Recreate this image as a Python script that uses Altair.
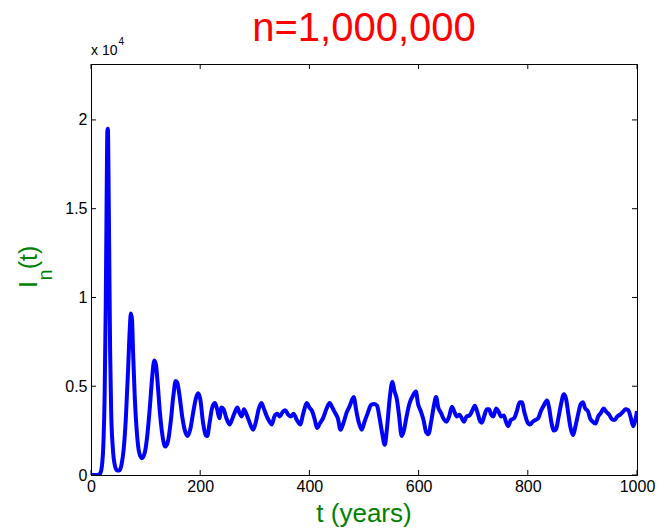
import altair as alt
import pandas as pd

# ---- data ----
t_years = [0, 8, 14, 17, 20, 23, 25, 27, 28.5, 30, 31, 32, 33.5, 35, 37, 40, 44, 48, 52, 56,
           60, 64, 68, 71, 73, 75, 77, 80, 84, 88, 93, 98, 103, 108, 112, 116, 119, 122, 126, 131,
           136, 141, 146, 151, 155, 158, 162, 167, 172, 177, 182, 187, 192, 196, 200, 205, 210, 213, 217, 222,
           227, 231, 235, 239, 243, 248, 254, 258, 263, 268, 272, 276, 280, 285, 290, 297, 302, 307, 312, 317,
           322, 327, 331, 336, 341, 346, 351, 356, 361, 366, 371, 377, 383, 389, 395, 400, 405, 410, 414, 419,
           425, 431, 437, 442, 447, 452, 457, 462, 468, 474, 481, 486, 491, 496, 501, 507, 513, 519, 524, 528,
           533, 538, 542, 547, 552, 556, 560, 564, 569, 573, 578, 583, 590, 595, 599, 604, 609, 614, 618, 623,
           628, 632, 636, 641, 646, 651, 656, 661, 665, 670, 675, 679, 683, 688, 693, 698, 703, 708, 713, 716,
           720, 725, 729, 733, 737, 742, 746, 751, 756, 760, 764, 769, 775, 780, 785, 789, 794, 799, 804, 809,
           814, 819, 824, 829, 835, 839, 843, 848, 852, 856, 861, 866, 870, 874, 878, 883, 887, 892, 897, 901,
           905, 910, 914, 919, 924, 929, 934, 939, 944, 949, 954, 959, 964, 969, 974, 979, 984, 988, 993, 997,
           1000]
infected = [0, 0, 20, 100, 500, 2000, 4500, 9500, 15000, 19400, 19500, 17000, 12000, 7000, 3500, 1500, 500, 250, 250, 600,
            1500, 3300, 6000, 8200, 9100, 8800, 7000, 4500, 2400, 1300, 950, 1200, 2200, 3900, 5500, 6450, 6200, 5200, 3600, 2200,
            1600, 1900, 3000, 4500, 5300, 5200, 4500, 3300, 2500, 2200, 2600, 3500, 4300, 4600, 4300, 3000, 2250, 2200, 2900, 3800,
            4050, 3700, 3200, 3800, 3700, 3200, 2850, 3100, 3500, 3800, 3500, 3300, 3700, 3400, 3000, 2550, 3000, 3700, 4050, 3700,
            3300, 3000, 2850, 3300, 3450, 3300, 3550, 3650, 3400, 3300, 3450, 3100, 2850, 3500, 4050, 3800, 3600, 3100, 2650, 2900,
            3200, 3700, 4050, 3800, 3500, 3200, 2550, 2900, 3500, 3900, 4400, 3600, 2900, 2550, 3000, 3500, 3950, 4000, 3900, 3300,
            2400, 1700, 2600, 4300, 5250, 4700, 4300, 3400, 2200, 2500, 3300, 4000, 4500, 4700, 4000, 3600, 3100, 2400, 2300, 3000,
            3900, 4400, 3800, 3500, 3150, 3000, 3300, 3850, 3600, 3300, 3400, 3200, 3000, 3300, 3350, 3600, 3900, 3500, 3000, 2950,
            3300, 3700, 3700, 3400, 3300, 3750, 3600, 3300, 3350, 3000, 2750, 3100, 3200, 3600, 4100, 4100, 3500, 3000, 2850, 3000,
            3100, 3200, 3600, 3900, 4200, 3800, 3000, 2500, 2600, 3200, 4000, 4550, 4300, 3500, 2700, 2250, 2700, 3400, 4000, 4100,
            3750, 3600, 3200, 3000, 2900, 3300, 3500, 3750, 3550, 3400, 3150, 3100, 3300, 3400, 3550, 3700, 3650, 3300, 2750, 3100,
            3600]

x_ticks = [0, 200, 400, 600, 800, 1000]
y_ticks = [0, 5000, 10000, 15000, 20000]
title_text = ["n=1,000,000"]
x_title = ["t (years)"]
y_title_main = ["I"]
y_title_sub = ["n"]
y_title_tail = ["(t)"]
exp_base = ["x 10"]
exp_power = ["4"]

W, H = 546, 411
FONT = "Liberation Sans"
GREEN = "#008000"

xs = alt.Scale(domain=[0, 1000], nice=False, zero=False)
ys = alt.Scale(domain=[0, 23150], nice=False)

x_axis = alt.Axis(
    values=x_ticks, title=None, ticks=False, tickSize=0, labelPadding=3,
    labelFontSize=16, labelFont=FONT, labelColor="black", domainColor="black",
    grid=False, labelFlush=False, format="d")
y_axis = alt.Axis(
    values=y_ticks, title=None, ticks=False, tickSize=0, labelPadding=4,
    labelFontSize=16, labelFont=FONT, labelColor="black", domainColor="black",
    grid=False, labelFlush=False, labelExpr="'' + datum.value / 10000")

df = pd.DataFrame({"t": t_years, "I": infected})

line = alt.Chart(df).mark_line(
    color="#0000ff", strokeWidth=4, interpolate="monotone", clip=True
).encode(
    x=alt.X("t:Q", scale=xs, axis=x_axis),
    y=alt.Y("I:Q", scale=ys, axis=y_axis),
)

tx = pd.DataFrame({"t": x_ticks})
ty = pd.DataFrame({"I": y_ticks})
rule_style = dict(color="black", strokeWidth=1)
tick_bottom = alt.Chart(tx).mark_rule(**rule_style).encode(
    x=alt.X("t:Q", scale=xs, axis=x_axis), y=alt.value(H), y2=alt.value(H - 5))
tick_top = alt.Chart(tx).mark_rule(**rule_style).encode(
    x=alt.X("t:Q", scale=xs, axis=x_axis), y=alt.value(0), y2=alt.value(5))
tick_left = alt.Chart(ty).mark_rule(**rule_style).encode(
    y=alt.Y("I:Q", scale=ys, axis=y_axis), x=alt.value(0), x2=alt.value(5))
tick_right = alt.Chart(ty).mark_rule(**rule_style).encode(
    y=alt.Y("I:Q", scale=ys, axis=y_axis), x=alt.value(W), x2=alt.value(W - 5))


def label(texts, x, y, size, color, align="center", angle=None):
    kw = dict(font=FONT, fontSize=size, color=color, align=align, baseline="alphabetic")
    if angle is not None:
        kw["angle"] = angle
    return alt.Chart(pd.DataFrame({"s": texts})).mark_text(**kw).encode(
        text="s:N", x=alt.value(x), y=alt.value(y))


title = label(title_text, W / 2, 41 - 64, 40, "#ff0000")
xlab = label(x_title, W / 2, 522 - 64, 26, GREEN)
ylab_main = label(y_title_main, 37 - 91, 284.5 - 64, 25, GREEN, angle=270)
ylab_tail = label(y_title_tail, 37 - 91, 257.5 - 64, 25, GREEN, angle=270)
ylab_sub = label(y_title_sub, 52 - 91, 275 - 64, 20, GREEN, angle=270)
exp1 = label(exp_base, 0, 55 - 64, 14, "black", align="left")
exp2 = label(exp_power, 27.5, 45 - 64, 10, "black", align="left")

chart = alt.layer(
    line, tick_bottom, tick_top, tick_left, tick_right,
    title, xlab, ylab_main, ylab_tail, ylab_sub, exp1, exp2
).properties(
    width=W, height=H,
    autosize=alt.AutoSizeParams(type="none"),
    padding={"left": 91, "top": 64, "right": 23, "bottom": 53},
    background="white",
).configure_view(
    stroke="black", strokeWidth=1
).configure_axis(
    domainWidth=1
)

chart.save("out.html", embed_options={"renderer": "svg", "actions": False})
